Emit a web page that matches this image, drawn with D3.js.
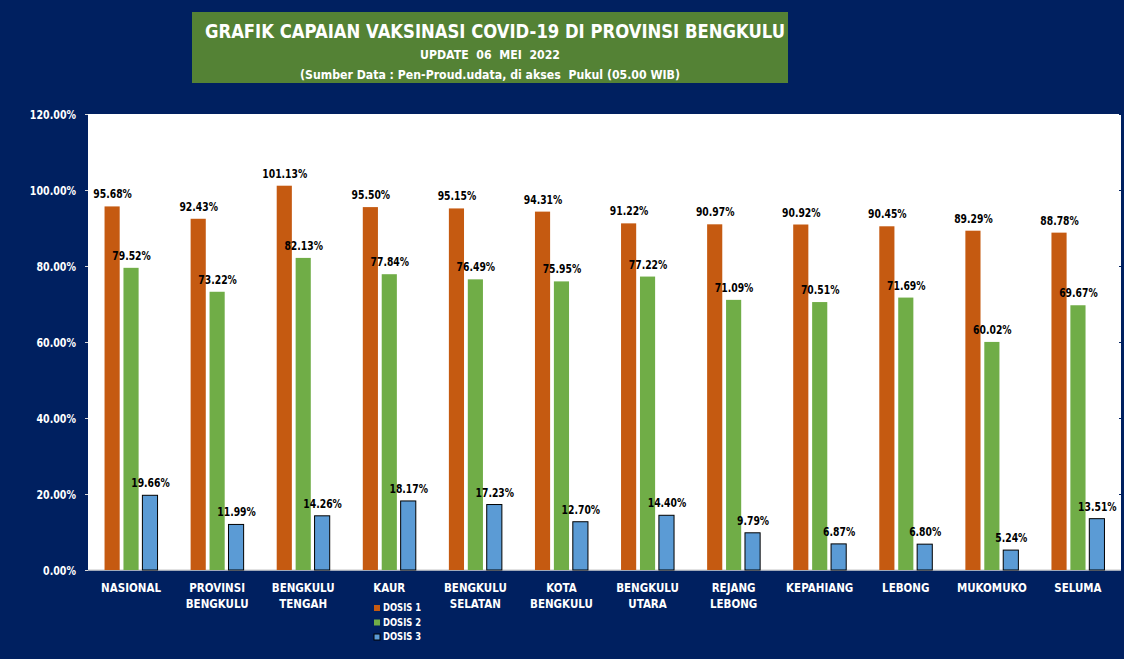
<!DOCTYPE html>
<html><head><meta charset="utf-8">
<script src="https://cdn.jsdelivr.net/npm/d3@7"></script>
<style>
html,body{margin:0;padding:0;background:#002060;}
svg{display:block;}
text{font-family:"DejaVu Sans",sans-serif;font-weight:bold;}
</style></head>
<body>
<script>
const categories = [["NASIONAL"],["PROVINSI","BENGKULU"],["BENGKULU","TENGAH"],["KAUR"],["BENGKULU","SELATAN"],["KOTA","BENGKULU"],["BENGKULU","UTARA"],["REJANG","LEBONG"],["KEPAHIANG"],["LEBONG"],["MUKOMUKO"],["SELUMA"]];
const dosis1 = [95.68,92.43,101.13,95.50,95.15,94.31,91.22,90.97,90.92,90.45,89.29,88.78];
const dosis2 = [79.52,73.22,82.13,77.84,76.49,75.95,77.22,71.09,70.51,71.69,60.02,69.67];
const dosis3 = [19.66,11.99,14.26,18.17,17.23,12.70,14.40,9.79,6.87,6.80,5.24,13.51];
const seriesNames = ["DOSIS 1","DOSIS 2","DOSIS 3"];
const yTicks = [0,20,40,60,80,100,120];
const colors = ["#C55A11","#70AD47","#5B9BD5"];

function condense(sel,f){
  sel.each(function(){
    const w=this.getComputedTextLength();
    d3.select(this).attr("textLength",w*f).attr("lengthAdjust","spacingAndGlyphs");
  });
}

const W=1124,H=659;
const svg=d3.select("body").append("svg").attr("width",W).attr("height",H);
svg.append("rect").attr("width",W).attr("height",H).attr("fill","#002060");

// title box
svg.append("rect").attr("x",192).attr("y",12).attr("width",596).attr("height",71).attr("fill","#548235");
svg.append("text").attr("x",495).attr("y",38).attr("text-anchor","middle").attr("fill","#fff").attr("font-size",20)
  .attr("textLength",580).attr("lengthAdjust","spacingAndGlyphs")
  .text("GRAFIK CAPAIAN VAKSINASI COVID-19 DI PROVINSI BENGKULU");
svg.append("text").attr("x",490).attr("y",59).attr("text-anchor","middle").attr("fill","#fff").attr("font-size",13)
  .attr("textLength",140).attr("lengthAdjust","spacingAndGlyphs")
  .attr("xml:space","preserve").text("UPDATE  06  MEI  2022");
svg.append("text").attr("x",490).attr("y",79).attr("text-anchor","middle").attr("fill","#fff").attr("font-size",13)
  .attr("textLength",380).attr("lengthAdjust","spacingAndGlyphs")
  .attr("xml:space","preserve").text("(Sumber Data : Pen-Proud.udata, di akses  Pukul (05.00 WIB)");

const L=88,R=1121,T=114,B=570;
svg.append("rect").attr("x",L).attr("y",T).attr("width",R-L).attr("height",B-T).attr("fill","#fff");

const y=d3.scaleLinear().domain([0,120]).range([B,T]);
const x=d3.scaleBand().domain(d3.range(categories.length)).range([L,R]);
const xi=d3.scaleBand().domain([0,1,2]).range([x.bandwidth()/2-26.5,x.bandwidth()/2+26.5]).paddingInner(0.2);

const yAxis=d3.axisLeft(y).tickValues(yTicks).tickFormat(d=>d.toFixed(2)+"%").tickSize(3).tickPadding(9);
const ga=svg.append("g").attr("transform",`translate(${L},0)`).call(yAxis);
ga.select(".domain").remove();
ga.selectAll("line").attr("stroke","#d9d9d9");
ga.selectAll("text").attr("fill","#fff").attr("font-size",12.5).attr("font-family",null).attr("dy","0.35em");
condense(ga.selectAll("text"),0.76);

// small marks on the right edge of plot area
const gr=svg.append("g").attr("transform",`translate(${R},0)`).call(d3.axisRight(y).tickValues(yTicks).tickSize(2).tickFormat(""));
gr.select(".domain").remove();
gr.selectAll("line").attr("stroke","#002060").attr("transform","translate(-2,0)");

svg.append("line").attr("x1",L).attr("x2",R).attr("y1",B).attr("y2",B).attr("stroke","#d9d9d9").attr("stroke-width",1.5);

const series=[dosis1,dosis2,dosis3];
series.forEach((vals,si)=>{
  const g=svg.append("g");
  g.selectAll("rect").data(vals).join("rect")
    .attr("x",(d,i)=>x(i)+xi(si)).attr("width",xi.bandwidth())
    .attr("y",d=>y(d)).attr("height",d=>B-y(d))
    .attr("fill",colors[si])
    .attr("stroke",si===2?"#000":"none").attr("stroke-width",si===2?1:0);
  const tx=g.selectAll("text").data(vals).join("text")
    .attr("x",(d,i)=>x(i)+xi(si)+xi.bandwidth()/2+0.5).attr("y",d=>y(d)-8)
    .attr("text-anchor","middle").attr("fill","#000").attr("font-size",12.5)
    .text(d=>d.toFixed(2)+"%");
  condense(tx,0.74);
});

// category labels
categories.forEach((c,i)=>{
  c.forEach((line,j)=>{
    const t=svg.append("text").attr("x",x(i)+x.bandwidth()/2).attr("y",592+j*16).attr("text-anchor","middle")
      .attr("fill","#fff").attr("font-size",12).text(line);
    condense(t,0.86);
  });
});

// legend
seriesNames.forEach((n,i)=>{
  const yy=605+i*14.5;
  svg.append("rect").attr("x",374).attr("y",yy).attr("width",6).attr("height",6).attr("fill",colors[i])
    .attr("stroke",i===2?"#000":"none");
  const t=svg.append("text").attr("x",383).attr("y",yy+6).attr("fill","#fff").attr("font-size",10.5).text(n);
  condense(t,0.8);
});
</script>
</body></html>
